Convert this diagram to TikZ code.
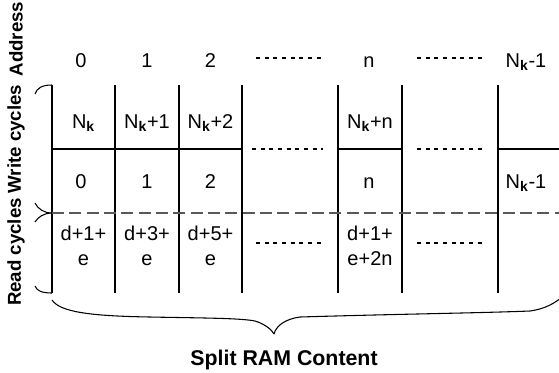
\documentclass[tikz,border=0pt]{standalone}
\usepackage{fontspec}
\setmainfont{Liberation Sans}
\begin{document}
\begin{tikzpicture}[x=0.75pt,y=-0.75pt,
  cell/.style={font=\fontsize{15}{18.75}\selectfont, anchor=base, inner sep=0pt},
  cell2/.style={font=\fontsize{15}{18.75}\selectfont, align=center, inner sep=0pt},
  lab/.style={font=\fontsize{14}{16}\selectfont\bfseries, inner sep=0pt},
  grid/.style={line width=0.8pt, black},
  dots/.style={line width=1.5pt, dash pattern=on 3pt off 3.5pt},
  mid/.style={line width=1.1pt, draw=black!65, dash pattern=on 9pt off 4pt},
  hook/.style={line width=0.8pt}]
\useasboundingbox (0,0) rectangle (559,372);

% left labels
\node[lab, rotate=90] (laddr) at (16,39) {Address};
\node[lab, rotate=90] (lwrite) at (16,139) {Write cycles};
\node[lab, rotate=90] (lread) at (16,252) {Read cycles};

% grid coordinates
\foreach \n/\x in {a/52, b/115, c/179, d/242, e/338, f/402, g/498}{
  \coordinate (\n-top) at (\x,85);
  \coordinate (\n-bot) at (\x,293);
  \coordinate (\n-mid) at (\x,149);
  \draw[grid] (\n-top) -- (\n-bot);
}
\coordinate (rmid) at (560,149);
\draw[grid] (a-mid) -- (d-mid);
\draw[grid] (e-mid) -- (f-mid);
\draw[grid] (g-mid) -- (rmid);

% dashed middle line
\coordinate (dl) at (52,213);
\coordinate (dr) at (560,213);
\draw[mid] (dl) -- (dr);

% dotted fillers
\coordinate (p1) at (256,58); \coordinate (p2) at (323,58);
\coordinate (p3) at (417,58); \coordinate (p4) at (484,58);
\coordinate (p5) at (252,149); \coordinate (p6) at (323,149);
\coordinate (p7) at (417,149); \coordinate (p8) at (484,149);
\coordinate (p9) at (256,243); \coordinate (p10) at (323,243);
\coordinate (p11) at (417,243); \coordinate (p12) at (484,243);
\draw[dots] (p1) -- (p2); \draw[dots] (p3) -- (p4);
\draw[dots] (p5) -- (p6); \draw[dots] (p7) -- (p8);
\draw[dots] (p9) -- (p10); \draw[dots] (p11) -- (p12);

% address row
\node[cell] (a0) at (81,67) {0};
\node[cell] (a1) at (147,67) {1};
\node[cell] (a2) at (210.5,67) {2};
\node[cell] (an) at (369,67) {n};
\node[cell] (ak) at (526,67) {N\textsubscript{\textbf{k}}-1};

% write row 1
\node[cell] (w10) at (83.5,128) {N\textsubscript{\textbf{k}}};
\node[cell] (w11) at (147,128) {N\textsubscript{\textbf{k}}+1};
\node[cell] (w12) at (210.5,128) {N\textsubscript{\textbf{k}}+2};
\node[cell] (w1n) at (370,128) {N\textsubscript{\textbf{k}}+n};

% write row 2
\node[cell] (w20) at (81,188) {0};
\node[cell] (w21) at (147,188) {1};
\node[cell] (w22) at (210.5,188) {2};
\node[cell] (w2n) at (369,188) {n};
\node[cell] (w2k) at (526,188) {N\textsubscript{\textbf{k}}-1};

% read row
\node[cell2] (r0) at (83.5,246) {d+1+\\e};
\node[cell2] (r1) at (147,246) {d+3+\\e};
\node[cell2] (r2) at (210.5,246) {d+5+\\e};
\node[cell2] (rn) at (370,246) {d+1+\\e+2n};

% left hooks
\draw[hook] (35,94) .. controls (37,88) and (42,85) .. (a-top);
\draw[hook] (35,203) .. controls (38,209) and (44,213) .. (dl);
\draw[hook] (35,222) .. controls (38,217) and (44,213) .. (dl);
\draw[hook] (35,286) .. controls (37,291) and (42,293) .. (a-bot);

% bottom brace
\coordinate (bl) at (52,300);
\coordinate (bc) at (274,334);
\coordinate (br) at (562,297);
\draw[hook] (bl) .. controls (60,312) and (90,316) .. (150,317)
  .. controls (200,318) and (240,318) .. (255,321)
  .. controls (265,324) and (272,330) .. (bc);
\draw[hook] (bc) .. controls (276,326) and (285,319) .. (300,317)
  .. controls (400,314) and (480,313) .. (530,311)
  .. controls (545,309) and (555,303) .. (br);

\node[lab, font=\fontsize{16}{18}\selectfont\bfseries, anchor=base] (split) at (284,365) {Split RAM Content};
\end{tikzpicture}
\end{document}
